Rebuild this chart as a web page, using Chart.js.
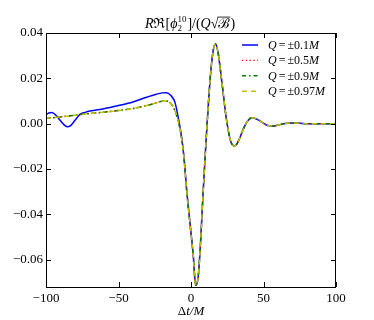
<!DOCTYPE html>
<html>
<head>
<meta charset="utf-8">
<script src="https://cdn.jsdelivr.net/npm/chart.js@4.4.0/dist/chart.umd.min.js"></script>
<style>
  html, body { margin: 0; padding: 0; background: #fff; }
  #wrap { width: 374px; height: 320px; }
</style>
</head>
<body>
<div id="wrap"><canvas id="chart" width="374" height="320"></canvas></div>
<script>
// time axis (Delta t / M), shared by all curves
const times = [-100, -98, -96, -93, -90, -87.5, -85.5, -83, -80, -76.6, -73, -69.7, -60, -50, -40, -30, -24, -20, -17, -14, -11, -8.8, -6.4, -4.8, -3, -0.7, 1.6, 3.2, 5, 6.7, 8.1, 9.7, 10.8, 13.1, 15, 16.8, 18.5, 21.2, 24.6, 28, 30.3, 33, 36, 39, 42.3, 46, 50, 53, 56.3, 60, 65, 70, 75, 80, 90, 100];

const q01 = [0.0040, 0.0047, 0.0049, 0.0036, 0.0013, -0.0005, -0.0013, -0.0008, 0.0015, 0.0041, 0.0050, 0.0056, 0.0066, 0.0080, 0.0096, 0.0118, 0.0130, 0.0136, 0.0137, 0.0125, 0.0093, 0.0027, -0.0062, -0.0150, -0.0290, -0.0437, -0.0584, -0.0712, -0.0672, -0.0510, -0.0334, -0.0150, -0.0032, 0.0188, 0.0310, 0.0352, 0.0320, 0.0188, 0.0012, -0.0088, -0.0098, -0.0072, -0.0025, 0.0012, 0.0026, 0.0018, 0.0002, -0.0008, -0.0010, -0.0006, 0.0001, 0.0003, 0.0002, 0.0000, 0.0000, 0.0000];
const q05 = [0.0024, 0.0025, 0.0026, 0.0028, 0.0030, 0.0032, 0.0033, 0.0035, 0.0037, 0.0040, 0.0043, 0.0045, 0.0051, 0.0058, 0.0067, 0.0081, 0.0092, 0.0099, 0.0100, 0.0090, 0.0056, 0.0010, -0.0068, -0.0155, -0.0295, -0.0440, -0.0586, -0.0712, -0.0672, -0.0510, -0.0334, -0.0150, -0.0032, 0.0188, 0.0310, 0.0352, 0.0320, 0.0188, 0.0012, -0.0088, -0.0098, -0.0072, -0.0025, 0.0012, 0.0026, 0.0018, 0.0002, -0.0008, -0.0010, -0.0006, 0.0001, 0.0003, 0.0002, 0.0000, 0.0000, 0.0000];
const q09 = [0.0024, 0.0025, 0.0026, 0.0028, 0.0030, 0.0032, 0.0033, 0.0035, 0.0037, 0.0040, 0.0043, 0.0045, 0.0051, 0.0058, 0.0067, 0.0081, 0.0092, 0.0099, 0.0100, 0.0090, 0.0056, 0.0010, -0.0068, -0.0155, -0.0295, -0.0440, -0.0586, -0.0712, -0.0672, -0.0510, -0.0334, -0.0150, -0.0032, 0.0188, 0.0310, 0.0352, 0.0320, 0.0188, 0.0012, -0.0088, -0.0098, -0.0072, -0.0025, 0.0012, 0.0026, 0.0018, 0.0002, -0.0008, -0.0010, -0.0006, 0.0001, 0.0003, 0.0002, 0.0000, 0.0000, 0.0000];
const q097 = [0.0024, 0.0025, 0.0026, 0.0028, 0.0030, 0.0032, 0.0033, 0.0035, 0.0037, 0.0040, 0.0043, 0.0045, 0.0051, 0.0058, 0.0067, 0.0081, 0.0092, 0.0099, 0.0100, 0.0090, 0.0056, 0.0010, -0.0068, -0.0155, -0.0295, -0.0440, -0.0586, -0.0712, -0.0672, -0.0510, -0.0334, -0.0150, -0.0032, 0.0188, 0.0310, 0.0352, 0.0320, 0.0188, 0.0012, -0.0088, -0.0098, -0.0072, -0.0025, 0.0012, 0.0026, 0.0018, 0.0002, -0.0008, -0.0010, -0.0006, 0.0001, 0.0003, 0.0002, 0.0000, 0.0000, 0.0000];

const seriesLabels = ["±0.1", "±0.5", "±0.9", "±0.97"];
const xTicks = [-100, -50, 0, 50, 100];
const yTicks = [-0.06, -0.04, -0.02, 0.00, 0.02, 0.04];

const SERIF = '"Liberation Serif", "DejaVu Serif", serif';
const font = (size, it) => (it ? "italic " : "") + size + "px " + SERIF;
const minus = s => s.replace("-", "\u2212");

function pts(ys) {
  return times.map((t, i) => ({ x: t, y: ys[i] }));
}

// draws a run of text pieces: {t, it, s, dy, over} or {sup, sub, s}
function drawRich(ctx, parts, x, y, align) {
  const widths = parts.map(p => {
    if (p.sup !== undefined) {
      ctx.font = font(p.s, false);
      return Math.max(ctx.measureText(p.sup).width, ctx.measureText(p.sub).width) + 1;
    }
    ctx.font = font(p.s, p.it);
    return ctx.measureText(p.t).width + (p.gap || 0);
  });
  const total = widths.reduce((a, b) => a + b, 0);
  let cx = align === "center" ? x - total / 2 : x;
  ctx.fillStyle = "#000";
  ctx.textAlign = "left";
  ctx.textBaseline = "alphabetic";
  parts.forEach((p, i) => {
    if (p.sup !== undefined) {
      ctx.font = font(p.s, false);
      ctx.fillText(p.sup, cx, y - 6);
      ctx.fillText(p.sub, cx, y + 3);
    } else {
      ctx.font = font(p.s, p.it);
      ctx.fillText(p.t, cx + (p.gap || 0) / 2, y + (p.dy || 0));
      if (p.over) {
        ctx.strokeStyle = "#000";
        ctx.lineWidth = 0.8;
        ctx.beginPath();
        ctx.moveTo(cx - 1, y - p.s * 0.78);
        ctx.lineTo(cx + widths[i], y - p.s * 0.78);
        ctx.stroke();
      }
    }
    cx += widths[i];
  });
}

const decor = {
  id: "decor",
  afterDatasetsDraw(chart) {
    const { ctx, chartArea: a, scales } = chart;
    ctx.save();
    ctx.strokeStyle = "#000";
    ctx.lineWidth = 1;
    ctx.strokeRect(a.left + 0.5, a.top + 0.5, a.right - a.left - 1, a.bottom - a.top);
    const L = 5;
    ctx.beginPath();
    xTicks.forEach(v => {
      const px = Math.round(scales.x.getPixelForValue(v)) + 0.5;
      ctx.moveTo(px, a.bottom); ctx.lineTo(px, a.bottom - L);
      ctx.moveTo(px, a.top); ctx.lineTo(px, a.top + L);
    });
    yTicks.forEach(v => {
      const py = Math.round(scales.y.getPixelForValue(v)) + 0.5;
      ctx.moveTo(a.left, py); ctx.lineTo(a.left + L, py);
      ctx.moveTo(a.right, py); ctx.lineTo(a.right - L, py);
    });
    ctx.stroke();

    // legend inside the axes, upper right
    chart.data.datasets.forEach((ds, i) => {
      const yy = 45 + i * 15.4;
      ctx.strokeStyle = ds.borderColor;
      ctx.lineWidth = ds.borderWidth;
      ctx.setLineDash(ds.borderDash || []);
      ctx.beginPath();
      ctx.moveTo(242, yy); ctx.lineTo(258, yy);
      ctx.stroke();
      ctx.setLineDash([]);
      drawRich(ctx, [
        { t: "Q", it: true, s: 12 },
        { t: "=", s: 12, gap: 4 },
        { t: seriesLabels[i], s: 12 },
        { t: "M", it: true, s: 12 }
      ], 268, yy + 4, "left");
    });

    // title
    drawRich(ctx, [
      { t: "R", it: true, s: 14 },
      { t: "\u211C", s: 14 },
      { t: "[", s: 14 },
      { t: "\u03D5", it: true, s: 14 },
      { sup: "10", sub: "2", s: 9 },
      { t: "]/(", s: 14 },
      { t: "Q", it: true, s: 14 },
      { t: "\u221A", s: 14 },
      { t: "\u212C", s: 14, over: true },
      { t: ")", s: 14 }
    ], 190, 28, "center");

    // x axis label
    drawRich(ctx, [
      { t: "\u0394", s: 13 },
      { t: "t/M", it: true, s: 13 }
    ], 191, 315, "center");
    ctx.restore();
  }
};

new Chart(document.getElementById("chart"), {
  type: "line",
  data: {
    datasets: [
      { label: "Q = ±0.1M", data: pts(q01), borderColor: "#0000ff", borderWidth: 1.5, order: 4 },
      { label: "Q = ±0.5M", data: pts(q05), borderColor: "#ff0000", borderWidth: 1.3, borderDash: [1.3, 2.5], order: 3 },
      { label: "Q = ±0.9M", data: pts(q09), borderColor: "#008000", borderWidth: 1.5, borderDash: [4, 3, 1.5, 3], order: 2 },
      { label: "Q = ±0.97M", data: pts(q097), borderColor: "#bfbf00", borderWidth: 1.5, borderDash: [5, 4], order: 1 }
    ]
  },
  plugins: [decor],
  options: {
    responsive: false,
    animation: false,
    layout: { padding: { top: 33, right: 38, left: 0, bottom: 0 } },
    elements: {
      point: { radius: 0 },
      line: { cubicInterpolationMode: "monotone", fill: false }
    },
    plugins: {
      legend: { display: false },
      tooltip: { enabled: false },
      title: { display: false }
    },
    scales: {
      x: {
        type: "linear",
        min: -100,
        max: 100,
        grid: { display: false, drawTicks: false },
        border: { display: false },
        afterBuildTicks: s => { s.ticks = xTicks.map(v => ({ value: v })); },
        afterFit: s => { s.height = 33; },
        ticks: {
          padding: 4,
          color: "#000",
          font: { family: SERIF, size: 13 },
          maxRotation: 0,
          callback: v => minus(String(v))
        }
      },
      y: {
        min: -0.072,
        max: 0.04,
        grid: { display: false, drawTicks: false },
        border: { display: false },
        afterBuildTicks: s => { s.ticks = yTicks.map(v => ({ value: v })); },
        afterFit: s => { s.width = 46; },
        ticks: {
          padding: 3,
          color: "#000",
          font: { family: SERIF, size: 13 },
          callback: v => minus(v.toFixed(2))
        }
      }
    }
  }
});
</script>
</body>
</html>
